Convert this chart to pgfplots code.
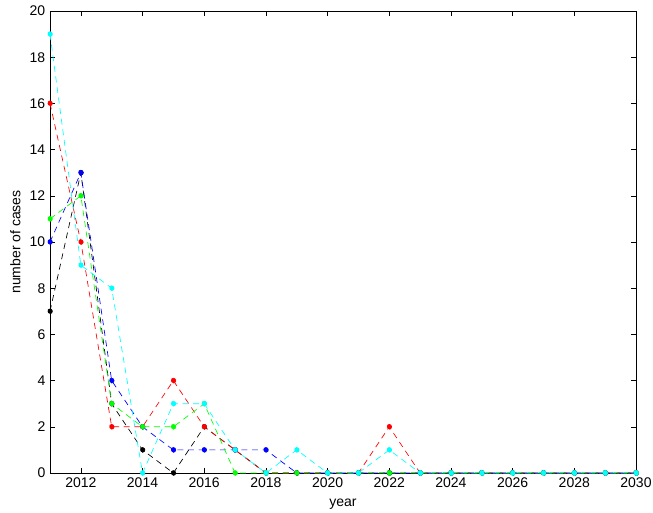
\documentclass[border=0pt]{standalone}
\usepackage{pgfplots}
\pgfplotsset{compat=1.18}
\usepackage{fontspec}
\setmainfont{Liberation Sans}
\definecolor{mred}{rgb}{1,0,0}
\definecolor{mblue}{rgb}{0,0,1}
\definecolor{mgreen}{rgb}{0,1,0}
\definecolor{mcyan}{rgb}{0,1,1}
\pgfplotstableread{
year k r b g c
2011 7 16 10 11 19
2012 13 10 13 12 9
2013 3 2 4 3 8
2014 1 2 2 2 0
2015 0 4 1 2 3
2016 2 2 1 3 3
2017 1 1 1 0 1
2018 0 0 1 0 0
2019 0 0 0 0 1
2020 0 0 0 0 0
2021 0 0 0 0 0
2022 0 2 0 0 1
2023 0 0 0 0 0
2024 0 0 0 0 0
2025 0 0 0 0 0
2026 0 0 0 0 0
2027 0 0 0 0 0
2028 0 0 0 0 0
2029 0 0 0 0 0
2030 0 0 0 0 0
}\data
\begin{document}
\begin{tikzpicture}
\useasboundingbox (-37.5pt,-29.25pt) rectangle (452.25pt,354.75pt);
\begin{axis}[
  at={(0,0)}, anchor=south west,
  scale only axis, width=439.5pt, height=346.5pt,
  xmin=2011, xmax=2030, ymin=0, ymax=20,
  xtick={2012,2014,...,2030}, ytick={0,2,...,20},
  tick align=inside, major tick length=4pt,
  xtick pos=both, ytick pos=both,
  x tick label style={/pgf/number format/1000 sep={}},
  /pgf/number format/assume math mode=true,
  tick label style={font=\fontsize{10.5}{12}\selectfont, black},
  label style={font=\fontsize{10.5}{12}\selectfont},
  xlabel={year}, ylabel={number of cases},
  xlabel style={at={(axis description cs:0.5,0)}, anchor=center, yshift=-23.25pt},
  ylabel style={at={(axis description cs:0,0.5)}, anchor=center, yshift=26pt},
  axis line style={black, line width=0.6pt},
  tick style={black, line width=0.4pt},
  every axis plot/.append style={line width=0.5pt, dash pattern=on 4.5pt off 3.5pt, mark=*, mark size=1.8pt, mark options={solid}},
  clip=false,
]
\addplot[black, mark options={fill=black}] table[x=year,y=k]{\data};
\addplot[mred, mark options={fill=mred}] table[x=year,y=r]{\data};
\addplot[mblue, mark options={fill=mblue}] table[x=year,y=b]{\data};
\addplot[mgreen, mark options={fill=mgreen}] table[x=year,y=g]{\data};
\addplot[mcyan, mark options={fill=mcyan}] table[x=year,y=c]{\data};
\end{axis}
\end{tikzpicture}
\end{document}
